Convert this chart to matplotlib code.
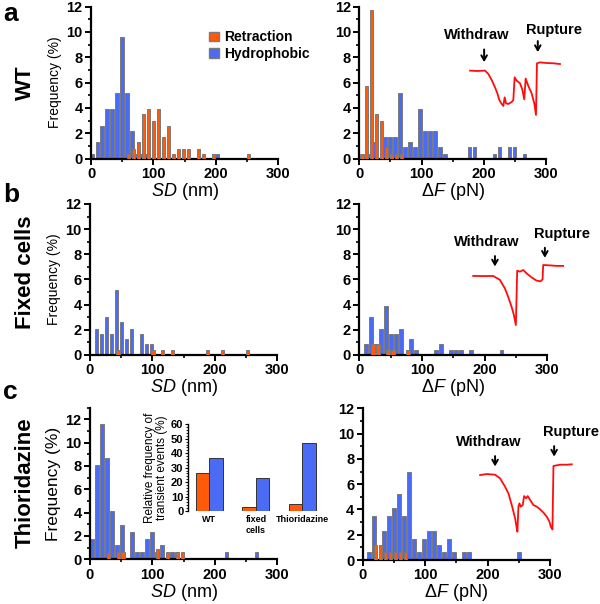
import matplotlib
matplotlib.use('Agg')
import matplotlib.pyplot as plt
from matplotlib.patches import Patch
from matplotlib.ticker import MultipleLocator

plt.rcParams['font.family'] = ['Liberation Sans', 'DejaVu Sans']
plt.rcParams['mathtext.fontset'] = 'custom'
plt.rcParams['mathtext.rm'] = 'Liberation Sans'
plt.rcParams['mathtext.it'] = 'Liberation Sans:italic'

ORANGE = '#ff5a0a'
BLUE = '#4a6cf5'
EDGE = '#7a7a7a'
TRACE = '#ff0d0d'

# --- histogram data (bin centre, frequency %) ---
# WT, SD
wt_sd_blue_x = [2, 10, 18, 26, 34, 42, 50, 58, 66, 74, 82, 90, 202]
wt_sd_blue_h = [0.4, 1.3, 2.6, 3.9, 3.9, 5.2, 9.6, 5.2, 2.2, 0.4, 0.4, 0.4, 0.4]
wt_sd_orng_x = [60.5, 68.5, 76.5, 84.5, 92.5, 100.5, 108.5, 116.5, 124.5, 132.5,
                140.5, 148.5, 156.5, 172.5, 180.5, 196.5, 252.5]
wt_sd_orng_h = [0.4, 0.8, 1.3, 3.5, 3.9, 3.0, 3.9, 1.7, 2.6, 0.4,
                0.8, 0.8, 0.8, 0.8, 0.4, 0.4, 0.4]
# WT, dF
wt_df_blue_x = [17.4, 25.4, 41.4, 49.4, 57.4, 65.4, 73.4, 81.4, 89.4, 97.4, 105.4,
                113.4, 121.4, 129.4, 137.4, 177.4, 185.4, 217.4, 225.4, 241.4, 249.4, 265.4]
wt_df_blue_h = [0.4, 1.3, 1.7, 1.7, 1.7, 5.2, 0.9, 1.3, 0.9, 3.9, 2.2,
                2.2, 2.2, 0.9, 0.4, 0.9, 0.9, 0.4, 0.9, 0.9, 0.9, 0.4]
wt_df_orng_x = [4, 12, 20, 28, 36, 44, 52, 60, 68]
wt_df_orng_h = [0.4, 5.7, 11.7, 3.5, 3.0, 0.9, 0.4, 0.4, 0.4]
# Fixed cells, SD
fx_sd_blue_x = [10.7, 18.7, 26.7, 34.7, 42.7, 50.7, 58.7, 66.7, 82.7, 90.7, 98.7]
fx_sd_blue_h = [2.1, 1.7, 3.0, 1.7, 5.2, 2.6, 1.3, 2.1, 1.7, 0.85, 0.85]
fx_sd_orng_x = [44.5, 100.5, 116.5, 132.5, 188.5, 212.5, 252.5]
fx_sd_orng_h = [0.4, 0.4, 0.4, 0.4, 0.4, 0.4, 0.4]
# Fixed cells, dF
fx_df_blue_x = [10.6, 18.6, 26.6, 34.6, 42.6, 50.6, 58.6, 66.6, 82.6, 90.6,
                122.6, 130.6, 146.6, 154.6, 162.6, 178.6, 226.6]
fx_df_blue_h = [0.85, 3.0, 0.85, 2.1, 3.9, 1.7, 1.7, 2.1, 1.3, 0.4,
                0.4, 0.85, 0.4, 0.4, 0.4, 0.4, 0.4]
fx_df_orng_x = [21.8, 29.8, 45.8, 53.8, 77.8]
fx_df_orng_h = [0.85, 0.85, 0.4, 0.4, 0.4]
# Thioridazine, SD
th_sd_blue_x = [3, 11, 19, 27, 35, 43, 51, 67, 75, 83, 91, 99, 107, 115, 131, 139, 219, 267]
th_sd_blue_h = [1.7, 8.1, 11.6, 8.7, 4.1, 1.2, 2.9, 2.3, 0.6, 0.6, 1.7, 2.3, 0.6, 1.2,
                0.6, 0.6, 0.6, 0.6]
th_sd_orng_x = [30, 46, 53, 108, 124, 140, 148]
th_sd_orng_h = [0.5, 0.6, 0.6, 0.9, 0.6, 0.6, 0.6]
# Thioridazine, dF
th_df_blue_x = [10.2, 18.2, 34.2, 42.2, 50.2, 58.2, 66.2, 74.2, 82.2, 90.2, 98.2,
                106.2, 114.2, 122.2, 130.2, 138.2, 146.2, 162.2, 170.2, 250.2]
th_df_blue_h = [0.6, 3.5, 2.3, 3.5, 4.1, 5.2, 3.5, 7.0, 1.7, 0.6, 1.7,
                2.3, 2.3, 1.2, 0.6, 1.7, 0.6, 0.6, 0.6, 0.6]
th_df_orng_x = [20.9, 28.9, 36.9, 44.9, 52.9, 60.9, 68.9]
th_df_orng_h = [1.2, 1.2, 0.6, 0.6, 0.6, 0.6, 0.6]

# inset: relative frequency of transient events (%)
inset_groups = ['WT', 'fixed\ncells', 'Thioridazine']
inset_retraction = [26, 3, 5]
inset_hydrophobic = [37, 23, 47]

# --- force traces (drawn in panel units) ---
trace_a_x = [178, 188.7, 202, 207.4, 212.7, 218.1, 221.8, 225, 228.8, 231.4, 233.6, 235.7,
             239.5, 244.8, 247.5, 249.6, 252.8, 258.2, 261.9, 265.1, 267.3, 271.6, 276.9,
             281.2, 283.9, 285.5, 290.3, 301, 311.8, 322.5]
trace_a_y = [6.95, 6.92, 6.95, 6.68, 6.21, 5.63, 5.16, 4.63, 4.32, 4.16, 4.84, 4.37,
             4.32, 4.47, 4.63, 6.42, 6.16, 5.95, 5.47, 4.68, 6.32, 5.74, 5.16,
             4.37, 3.45, 7.53, 7.6, 7.55, 7.53, 7.47]
trace_b_x = [181.8, 200, 213.7, 224.4, 232.3, 237.6, 243, 246.7, 249.9, 252, 256.3,
             261.6, 266.9, 274.9, 282.9, 289.3, 292.5, 293.5, 304.2, 314.8, 325.4]
trace_b_y = [6.28, 6.27, 6.28, 5.97, 5.30, 4.63, 3.84, 3.18, 2.38, 6.70, 6.62,
             6.75, 6.49, 6.17, 5.91, 5.85, 6.01, 7.15, 7.12, 7.08, 7.08]
trace_c_x = [188, 198.6, 212, 220, 228, 233.4, 238.7, 244.1, 246.7, 247.8, 249.4, 251,
             253.1, 256.3, 258.5, 261.7, 264.3, 268.1, 273.4, 278.8, 284.1, 289.5,
             294.8, 299.1, 301.2, 303.9, 305.5, 316.2, 326.9, 334.9]
trace_c_y = [6.72, 6.80, 6.75, 6.46, 5.80, 5.27, 4.35, 3.30, 2.51, 2.24, 4.22, 4.48,
             4.22, 4.35, 5.06, 4.88, 5.06, 4.75, 4.35, 4.22, 4.01, 3.75,
             3.43, 3.03, 2.64, 2.42, 7.44, 7.54, 7.54, 7.57]


def style_axes(ax, ymax, xlabel, ylabel=None, ylabel_size=10):
    ax.set_xlim(0, 300)
    ax.set_ylim(0, ymax)
    ax.xaxis.set_major_locator(MultipleLocator(100))
    ax.xaxis.set_minor_locator(MultipleLocator(50))
    ax.yaxis.set_minor_locator(MultipleLocator(1))
    ax.set_yticks(range(0, 13, 2))
    for s in ['top', 'right']:
        ax.spines[s].set_visible(False)
    for s in ['left', 'bottom']:
        ax.spines[s].set_linewidth(1.6)
    ax.tick_params(which='major', length=4, width=1.4, labelsize=10.5, pad=2)
    ax.tick_params(which='minor', length=2.5, width=1.2)
    for lab in ax.get_xticklabels() + ax.get_yticklabels():
        lab.set_fontweight('bold')
    ax.set_xlabel(xlabel, fontsize=13, labelpad=0)
    if ylabel:
        ax.set_ylabel(ylabel, fontsize=ylabel_size, labelpad=3)


def draw_hist(ax, bx, bh, ox, oh):
    ax.bar(bx, bh, width=5.6, color=BLUE, edgecolor=EDGE, linewidth=0.7, zorder=2)
    ax.bar(ox, oh, width=5.6, color=ORANGE, edgecolor=EDGE, linewidth=0.7, zorder=3)


def draw_trace(ax, tx, ty, wd, rp):
    ax.plot(tx, ty, color=TRACE, lw=1.3, clip_on=False, zorder=4)
    # wd / rp: (text x, text y, arrow x, arrow top, arrow tip)
    for (x, y, axx, a0, a1), txt in [(wd, 'Withdraw'), (rp, 'Rupture')]:
        ax.text(x, y, txt, ha='center', va='center', fontsize=10.5,
                fontweight='bold', clip_on=False)
        ax.annotate('', xy=(axx, a1), xytext=(axx, a0), annotation_clip=False,
                    arrowprops=dict(arrowstyle='->,head_length=0.35,head_width=0.2',
                                    lw=1.4, color='black'))


fig = plt.figure(figsize=(6, 6.04), dpi=100)

sd_label = '$SD$ (nm)'
df_label = 'Δ$F$ (pN)'

ax_a1 = fig.add_axes([0.1517, 0.7373, 0.3117, 0.2517])
draw_hist(ax_a1, wt_sd_blue_x, wt_sd_blue_h, wt_sd_orng_x, wt_sd_orng_h)
style_axes(ax_a1, 12, sd_label, 'Frequency (%)')
ax_a1.legend(handles=[Patch(facecolor=ORANGE, edgecolor=EDGE, label='Retraction'),
                      Patch(facecolor=BLUE, edgecolor=EDGE, label='Hydrophobic')],
             loc='upper left', bbox_to_anchor=(0.6, 0.88), frameon=False,
             prop={'weight': 'bold', 'size': 10}, handlelength=0.7, handleheight=0.7,
             handletextpad=0.4, labelspacing=0.2, borderaxespad=0)

ax_a2 = fig.add_axes([0.5988, 0.7373, 0.3112, 0.2517])
draw_hist(ax_a2, wt_df_blue_x, wt_df_blue_h, wt_df_orng_x, wt_df_orng_h)
style_axes(ax_a2, 12, df_label)
draw_trace(ax_a2, trace_a_x, trace_a_y, (188.7, 9.76, 200.6, 8.84, 7.4),
           (313, 10.16, 286.8, 9.5, 8.19))

ax_b1 = fig.add_axes([0.15, 0.4123, 0.3122, 0.25])
draw_hist(ax_b1, fx_sd_blue_x, fx_sd_blue_h, fx_sd_orng_x, fx_sd_orng_h)
style_axes(ax_b1, 12, sd_label, 'Frequency (%)')

ax_b2 = fig.add_axes([0.5988, 0.4123, 0.3133, 0.25])
draw_hist(ax_b2, fx_df_blue_x, fx_df_blue_h, fx_df_orng_x, fx_df_orng_h)
style_axes(ax_b2, 12, df_label)
draw_trace(ax_b2, trace_b_x, trace_b_y, (203.2, 9.0, 216.5, 8.08, 6.81),
           (323.8, 9.62, 296.2, 8.74, 7.5))

ax_c1 = fig.add_axes([0.15, 0.074, 0.3122, 0.2512])
draw_hist(ax_c1, th_sd_blue_x, th_sd_blue_h, th_sd_orng_x, th_sd_orng_h)
style_axes(ax_c1, 13, sd_label, 'Frequency (%)', ylabel_size=12.5)

ax_c2 = fig.add_axes([0.6045, 0.0728, 0.3122, 0.2512])
draw_hist(ax_c2, th_df_blue_x, th_df_blue_h, th_df_orng_x, th_df_orng_h)
style_axes(ax_c2, 12, df_label)
draw_trace(ax_c2, trace_c_x, trace_c_y, (201.3, 9.36, 212, 8.44, 7.18),
           (333.3, 10.15, 306.6, 9.23, 7.96))

# inset bar chart
axi = fig.add_axes([0.3138, 0.154, 0.216, 0.1435])
axi.patch.set_alpha(0)
idx = list(range(len(inset_groups)))
axi.bar([i - 0.145 for i in idx], inset_retraction, 0.29, color=ORANGE,
        edgecolor='#333333', linewidth=0.7)
axi.bar([i + 0.145 for i in idx], inset_hydrophobic, 0.29, color=BLUE,
        edgecolor='#333333', linewidth=0.7)
axi.set_xlim(-0.45, 2.33)
axi.set_ylim(0, 60)
for s in ['top', 'right', 'bottom']:
    axi.spines[s].set_visible(False)
axi.spines['left'].set_linewidth(1.0)
axi.yaxis.set_major_locator(MultipleLocator(10))
axi.yaxis.set_minor_locator(MultipleLocator(2))
axi.tick_params(axis='y', which='major', length=2.5, width=0.8, labelsize=8, pad=1)
axi.tick_params(axis='y', which='minor', length=1.5, width=0.6)
axi.set_xticks(idx)
axi.set_xticklabels(inset_groups, fontsize=6.5, fontweight='bold', linespacing=1.3)
axi.tick_params(axis='x', length=0, pad=3)
for lab in axi.get_yticklabels():
    lab.set_fontweight('bold')
axi.set_ylabel('Relative frequency of\ntransient events (%)', fontsize=8.5,
               labelpad=2, linespacing=1.0)

# row and panel labels
for y, txt in [(0.8626, 'WT'), (0.5488, 'Fixed cells'), (0.2003, 'Thioridazine')]:
    fig.text(0.042, y, txt, rotation=90, ha='center', va='center',
             fontsize=16, fontweight='bold')
for y, txt in [(0.965, 'a'), (0.6656, 'b'), (0.3394, 'c')]:
    fig.text(0.005, y, txt, ha='left', va='baseline', fontsize=19, fontweight='bold')

fig.savefig('out.png', dpi=100)
